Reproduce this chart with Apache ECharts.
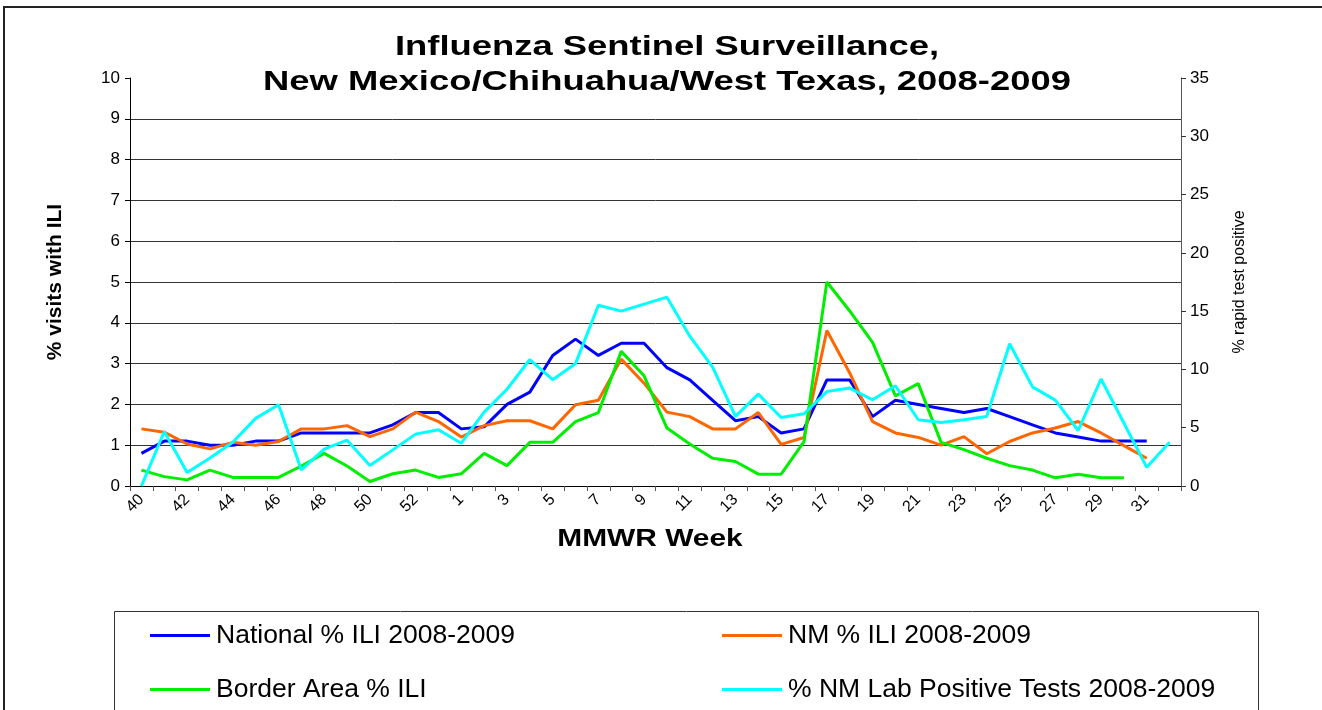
<!DOCTYPE html>
<html>
<head>
<meta charset="utf-8">
<script src="https://cdn.jsdelivr.net/npm/echarts@6/dist/echarts.min.js"></script>
<style>
html,body{margin:0;padding:0;background:#fff;}
#chart{width:1322px;height:710px;}
</style>
</head>
<body>
<div id="chart"></div>
<script>
const weeks = ['40','41','42','43','44','45','46','47','48','49','50','51','52','53',
  '1','2','3','4','5','6','7','8','9','10','11','12','13','14','15','16','17','18','19','20',
  '21','22','23','24','25','26','27','28','29','30','31','32'];
const nationalILI = [0.8,1.1,1.1,1.0,1.0,1.1,1.1,1.3,1.3,1.3,1.3,1.5,1.8,1.8,
  1.4,1.45,2.0,2.3,3.2,3.6,3.2,3.5,3.5,2.9,2.6,2.1,1.6,1.7,1.3,1.4,2.6,2.6,1.7,2.1,
  2.0,1.9,1.8,1.9,1.7,1.5,1.3,1.2,1.1,1.1,1.1,null];
const nmILI = [1.4,1.32,1.03,0.91,1.07,1.0,1.09,1.4,1.4,1.48,1.21,1.4,1.81,1.58,
  1.2,1.48,1.6,1.6,1.4,1.99,2.1,3.11,2.52,1.81,1.7,1.4,1.4,1.8,1.02,1.19,3.81,2.77,1.58,1.3,
  1.19,1.0,1.21,0.79,1.09,1.3,1.42,1.58,1.3,0.99,0.68,null];
const borderILI = [0.39,0.23,0.15,0.39,0.21,0.21,0.21,0.49,0.8,0.49,0.11,0.3,0.39,0.21,
  0.3,0.8,0.5,1.07,1.07,1.58,1.8,3.3,2.7,1.42,1.03,0.68,0.6,0.29,0.29,1.09,5.0,4.29,3.52,2.21,
  2.51,1.07,0.89,0.68,0.5,0.39,0.2,0.29,0.2,0.2,null,null];
const labPositive = [0,4.67,1.15,2.4,3.76,5.8,6.97,1.38,3.16,3.93,1.75,3.1,4.45,4.82,
  3.67,6.34,8.3,10.85,9.12,10.5,15.5,15.0,15.6,16.2,12.85,10.2,5.97,7.88,5.88,6.2,8.1,8.4,7.4,8.6,
  5.68,5.45,5.68,5.97,12.2,8.5,7.37,4.76,9.18,5.4,1.6,3.76];
const seriesNames = ['National % ILI 2008-2009','NM % ILI 2008-2009','Border Area % ILI','% NM Lab Positive Tests 2008-2009'];
const titleLines = ['Influenza Sentinel Surveillance,','New Mexico/Chihuahua/West Texas, 2008-2009'];
const leftAxisName = '% visits with ILI';
const rightAxisName = '% rapid test positive';
const xAxisName = 'MMWR Week';

const FONT = "'Liberation Sans', Arial, sans-serif";
const chart = echarts.init(document.getElementById('chart'), null, {renderer:'canvas'});

function legendAt(name, left, top){
  return {
    data:[name], left:left, top:top, padding:0, orient:'horizontal',
    icon:'rect', itemWidth:60, itemHeight:3, itemGap:0,
    textStyle:{fontFamily:FONT, fontSize:26.5, color:'#000', padding:[0,0,0,1]},
    selectedMode:false
  };
}

const option = {
  backgroundColor:'#fff',
  animation:false,
  grid:{left:130, right:141, top:78, bottom:224, containLabel:false},
  legend:[
    legendAt(seriesNames[0],150,622),
    legendAt(seriesNames[1],722,622),
    legendAt(seriesNames[2],150,676),
    legendAt(seriesNames[3],722,676)
  ],
  xAxis:{
    type:'category', data:weeks, boundaryGap:true,
    axisLine:{lineStyle:{color:'#000', width:1}},
    axisTick:{show:true, interval:0, length:5, lineStyle:{color:'#555'}},
    axisLabel:{interval:1, rotate:45, fontFamily:FONT, fontSize:16, color:'#000', margin:11},
    splitLine:{show:false}
  },
  yAxis:[
    {type:'value', min:0, max:10, interval:1, position:'left',
     axisLine:{show:true, lineStyle:{color:'#000', width:1}},
     axisTick:{show:true, length:5, lineStyle:{color:'#000'}},
     axisLabel:{fontFamily:FONT, fontSize:17, color:'#000', margin:10},
     splitLine:{show:true, showMaxLine:false, lineStyle:{color:'#333', width:1}}},
    {type:'value', min:0, max:35, interval:5, position:'right',
     axisLine:{show:true, lineStyle:{color:'#555', width:1}},
     axisTick:{show:true, length:5, lineStyle:{color:'#333'}},
     axisLabel:{fontFamily:FONT, fontSize:17, color:'#000', margin:9},
     splitLine:{show:false}}
  ],
  series:[
    {name:seriesNames[0], type:'line', data:nationalILI, yAxisIndex:0, symbol:'none',
     lineStyle:{color:'#0000FF', width:3}, itemStyle:{color:'#0000FF'}},
    {name:seriesNames[1], type:'line', data:nmILI, yAxisIndex:0, symbol:'none',
     lineStyle:{color:'#FF6600', width:3}, itemStyle:{color:'#FF6600'}},
    {name:seriesNames[2], type:'line', data:borderILI, yAxisIndex:0, symbol:'none',
     lineStyle:{color:'#00EE00', width:3}, itemStyle:{color:'#00EE00'}},
    {name:seriesNames[3], type:'line', data:labPositive, yAxisIndex:1, symbol:'none',
     lineStyle:{color:'#00FFFF', width:3}, itemStyle:{color:'#00FFFF'}}
  ],
  graphic:[
    {type:'rect', silent:true, z:-1, shape:{x:4, y:7, width:1400, height:760},
     style:{fill:'none', stroke:'#222', lineWidth:2}},
    {type:'rect', silent:true, shape:{x:114.5, y:611.5, width:1144, height:140},
     style:{fill:'none', stroke:'#333', lineWidth:1}},
    {type:'text', x:667, y:47, scaleX:1.3, scaleY:1,
     style:{text:titleLines[0], x:0, y:0, textAlign:'center', textVerticalAlign:'middle', align:'center', verticalAlign:'middle',
            font:"bold 28px 'Liberation Sans', Arial, sans-serif", fill:'#000'}},
    {type:'text', x:667, y:82, scaleX:1.3, scaleY:1,
     style:{text:titleLines[1], x:0, y:0, textAlign:'center', textVerticalAlign:'middle', align:'center', verticalAlign:'middle',
            font:"bold 28px 'Liberation Sans', Arial, sans-serif", fill:'#000'}},
    {type:'text', x:650, y:540, scaleX:1.3, scaleY:1,
     style:{text:xAxisName, x:0, y:0, textAlign:'center', textVerticalAlign:'middle', align:'center', verticalAlign:'middle',
            font:"bold 23px 'Liberation Sans', Arial, sans-serif", fill:'#000'}},
    {type:'text', x:55, y:282, rotation:Math.PI/2,
     style:{text:leftAxisName, x:0, y:0, textAlign:'center', textVerticalAlign:'middle', align:'center', verticalAlign:'middle',
            font:"bold 21px 'Liberation Sans', Arial, sans-serif", fill:'#000'}},
    {type:'text', x:1240, y:282, rotation:Math.PI/2,
     style:{text:rightAxisName, x:0, y:0, textAlign:'center', textVerticalAlign:'middle', align:'center', verticalAlign:'middle',
            font:"16px 'Liberation Sans', Arial, sans-serif", fill:'#000'}}
  ]
};
chart.setOption(option);
</script>
</body>
</html>
